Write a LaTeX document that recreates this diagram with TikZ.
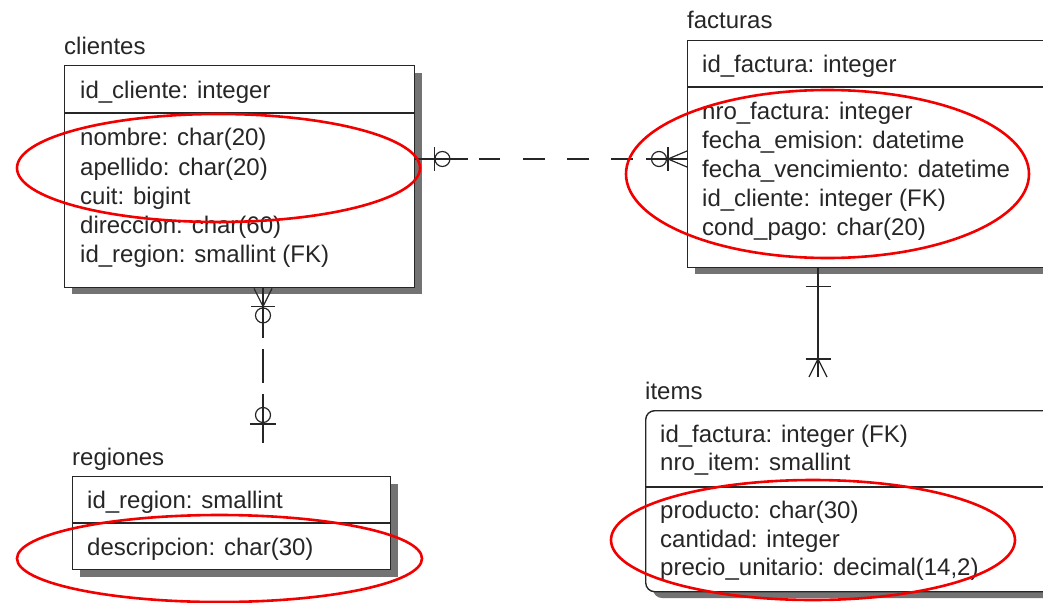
\documentclass[tikz,border=0pt]{standalone}
\usepackage{fontspec}
\setmainfont{Liberation Sans}
\usetikzlibrary{calc}
\begin{document}
\begin{tikzpicture}[x=1pt,y=-1pt,
  tbl/.style={draw=black!85, line width=1.4pt, fill=white, inner sep=0pt, anchor=north west},
  shadowfill/.style={fill=black!55},
  fld/.style={anchor=base west, inner sep=0pt, font=\fontsize{24}{29}\selectfont, text=black!85},
  rel/.style={line width=1.3pt, draw=black!85},
  mk/.style={line width=1.2pt, draw=black!85},
  oval/.style={draw=red!95!black, line width=2.6pt}
]
\useasboundingbox (0,0) rectangle (1043,602);
\clip (0,0) rectangle (1043,602);

% ---- shadows ----
\fill[shadowfill] (72,73) rectangle (422,294);
\fill[shadowfill] (695,48) rectangle (1060,274);
\fill[shadowfill] (80,484) rectangle (398,577);
\fill[shadowfill, rounded corners=9pt] (653,418) rectangle (1070,598);

% ---- tables ----
\node[tbl, minimum width=350pt, minimum height=222pt] (clientes) at (64,65) {};
\node[tbl, minimum width=400pt, minimum height=227pt] (facturas) at (687,40) {};
\node[tbl, minimum width=318pt, minimum height=93pt] (regiones) at (72,476) {};
\node[tbl, minimum width=420pt, minimum height=181pt, rounded corners=9pt] (items) at (645,410) {};

% key / attribute separators
\draw[black!85, line width=1.4pt] (clientes.west |- 0,113) -- (clientes.east |- 0,113);
\draw[black!85, line width=1.4pt] (facturas.west |- 0,87) -- (facturas.east |- 0,87);
\draw[black!85, line width=1.4pt] (regiones.west |- 0,523) -- (regiones.east |- 0,523);
\draw[black!85, line width=1.4pt] (items.west |- 0,487) -- (items.east |- 0,487);

% ---- titles ----
\node[fld] (tclientes) at (64,55) {clientes};
\node[fld] (tfacturas) at (687,29) {facturas};
\node[fld] (tregiones) at (72,465) {regiones};
\node[fld] (titems) at (645,399) {items};

% ---- clientes ----
\node[fld] (c1) at (80,98) {id\_cliente: integer};
\node[fld] (c2) at (80,145) {nombre: char(20)};
\node[fld] (c3) at (80,175) {apellido: char(20)};
\node[fld] (c4) at (80,204) {cuit: bigint};
\node[fld] (c5) at (80,233) {direccion: char(60)};
\node[fld] (c6) at (80,262) {id\_region: smallint (FK)};

% ---- facturas ----
\node[fld] (f1) at (702,72) {id\_factura: integer};
\node[fld] (f2) at (702,119) {nro\_factura: integer};
\node[fld] (f3) at (702,148) {fecha\_emision: datetime};
\node[fld] (f4) at (702,177) {fecha\_vencimiento: datetime};
\node[fld] (f5) at (702,206) {id\_cliente: integer (FK)};
\node[fld] (f6) at (702,235) {cond\_pago: char(20)};

% ---- regiones ----
\node[fld] (g1) at (87,508) {id\_region: smallint};
\node[fld] (g2) at (87,555) {descripcion: char(30)};

% ---- items ----
\node[fld] (i1) at (660,442) {id\_factura: integer (FK)};
\node[fld] (i2) at (660,470) {nro\_item: smallint};
\node[fld] (i3) at (660,518) {producto: char(30)};
\node[fld] (i4) at (660,547) {cantidad: integer};
\node[fld] (i5) at (660,575) {precio\_unitario: decimal(14,2)};

% ---- clientes -- facturas (non-identifying, zero-or-one to zero-or-many) ----
\coordinate (r1a) at (clientes.east |- 0,159);
\coordinate (r1b) at (facturas.west |- 0,159);
\draw[rel, dash pattern=on 53pt off 11pt on 21pt off 23pt on 22pt off 22pt on 22pt off 22pt on 22pt off 13pt on 80pt] (r1a) -- (r1b);
\draw[mk] ($(r1a)+(19,-12)$) -- ($(r1a)+(19,12)$);
\draw[mk] ($(r1a)+(27,0)$) circle[radius=7.5pt];
\draw[mk] ($(r1b)+(-28,0)$) circle[radius=7.5pt];
\draw[mk] ($(r1b)+(-19,-12)$) -- ($(r1b)+(-19,12)$);
\draw[mk] ($(r1b)+(0,-8)$) -- ($(r1b)+(-19,0)$) -- ($(r1b)+(0,8)$);

% ---- clientes -- regiones ----
\coordinate (r2a) at (clientes.south -| 263,0);
\coordinate (r2b) at ($(regiones.north -| r2a)+(0,-33)$);
\draw[rel, dash pattern=on 50pt off 11pt on 34pt off 11pt on 80pt] (r2a) -- (r2b);
\draw[mk] ($(r2a)+(-9,0)$) -- ($(r2a)+(0,18)$) -- ($(r2a)+(9,0)$);
\draw[mk] ($(r2a)+(-12,18)$) -- ($(r2a)+(12,18)$);
\draw[mk] ($(r2a)+(0,27)$) circle[radius=7.5pt];
\draw[mk] ($(r2b)+(0,-28)$) circle[radius=7.5pt];
\draw[mk] ($(r2b)+(-13,-19)$) -- ($(r2b)+(13,-19)$);

% ---- facturas -- items (identifying) ----
\coordinate (r3a) at (facturas.south -| 818,0);
\coordinate (r3b) at ($(items.north -| r3a)+(0,-33)$);
\draw[rel] (r3a) -- (r3b);
\draw[mk] ($(r3a)+(-12.5,18)$) -- ($(r3a)+(12.5,18)$);
\draw[mk] ($(r3b)+(-12.5,-18)$) -- ($(r3b)+(12.5,-18)$);
\draw[mk] ($(r3b)+(-9,0)$) -- ($(r3b)+(0,-18)$) -- ($(r3b)+(9,0)$);

% ---- highlighted attribute groups ----
\draw[oval] (218.5,168) ellipse[x radius=201.5pt, y radius=54pt];
\draw[oval] (827.5,174) ellipse[x radius=201.5pt, y radius=84pt];
\draw[oval] (219.5,558.5) ellipse[x radius=202.5pt, y radius=43.5pt];
\draw[oval] (813,540) ellipse[x radius=202pt, y radius=60pt];
\end{tikzpicture}
\end{document}
